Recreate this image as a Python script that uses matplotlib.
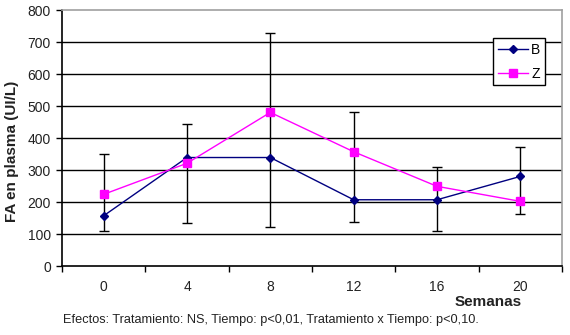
import matplotlib
matplotlib.use("Agg")
import matplotlib.pyplot as plt
import numpy as np

plt.rcParams['font.family'] = ['Liberation Sans', 'DejaVu Sans']

weeks = ["0", "4", "8", "12", "16", "20"]
B = [157, 339, 339, 207, 207, 280]
Z = [224, 321, 480, 357, 249, 202]
err_low = [110, 134, 122, 139, 110, 163]
err_high = [351, 444, 729, 481, 308, 371]
yticks = [0, 100, 200, 300, 400, 500, 600, 700, 800]

fig = plt.figure(figsize=(5.70, 3.35), dpi=100)
ax = fig.add_axes([62/570, 69/335, 500/570, 256/335])

x = np.arange(len(weeks))

for xi, lo, hi in zip(x, err_low, err_high):
    mid = (lo + hi) / 2
    ax.errorbar(xi, mid, yerr=[[mid - lo], [hi - mid]], fmt='none',
                ecolor='black', elinewidth=1.0, capsize=3.5, capthick=1.0, zorder=2)

ax.plot(x, B, color='#000080', marker='D', markersize=4, linewidth=1.0, label='B', zorder=3)
ax.plot(x, Z, color='#FF00FF', marker='s', markersize=5.5, linewidth=1.0, label='Z', zorder=3)

ax.set_xlim(-0.5, len(weeks) - 0.5)
ax.set_ylim(0, 800)
ax.set_yticks(yticks)
ax.set_yticklabels([str(v) for v in yticks], fontsize=10, color='#222222')
ax.set_xticks(x)
ax.set_xticklabels(weeks, fontsize=10, color='#222222')
ax.tick_params(axis='x', which='major', length=0, pad=10)
ax.set_xticks(np.arange(-0.5, len(weeks), 1.0), minor=True)
ax.tick_params(axis='x', which='minor', length=4, width=1, direction='out')
ax.tick_params(axis='y', length=4, width=1, direction='out', pad=4)

for v in yticks[1:-1]:
    ax.axhline(v, color='black', linewidth=1.0, zorder=1)

ax.spines['left'].set_color('black')
ax.spines['bottom'].set_color('black')
ax.spines['top'].set_color('#A0A0A0')
ax.spines['right'].set_color('#A0A0A0')
for s in ax.spines.values():
    s.set_linewidth(1.2)

fig.text(12.5/570, 1 - 151/335, 'FA en plasma (UI/L)', fontsize=11, fontweight='bold',
         rotation=90, ha='center', va='center', color='#222222')

leg = ax.legend(loc='upper left', bbox_to_anchor=(431/500, 1 - 28/256), fontsize=10,
                frameon=True, fancybox=False, edgecolor='black', framealpha=1,
                handlelength=2.2, handletextpad=0.2, borderpad=0.35, labelspacing=0.7,
                borderaxespad=0)
leg.get_frame().set_linewidth(1.0)

fig.text(488/570, 1 - 302/335, 'Semanas', fontsize=11, fontweight='bold', ha='center', va='center',
         color='#222222')
fig.text(63/570, 1 - 320/335, 'Efectos: Tratamiento: NS, Tiempo: p<0,01, Tratamiento x Tiempo: p<0,10.',
         fontsize=9.2, ha='left', va='center', color='#222222')

fig.savefig('out.png', dpi=100)
